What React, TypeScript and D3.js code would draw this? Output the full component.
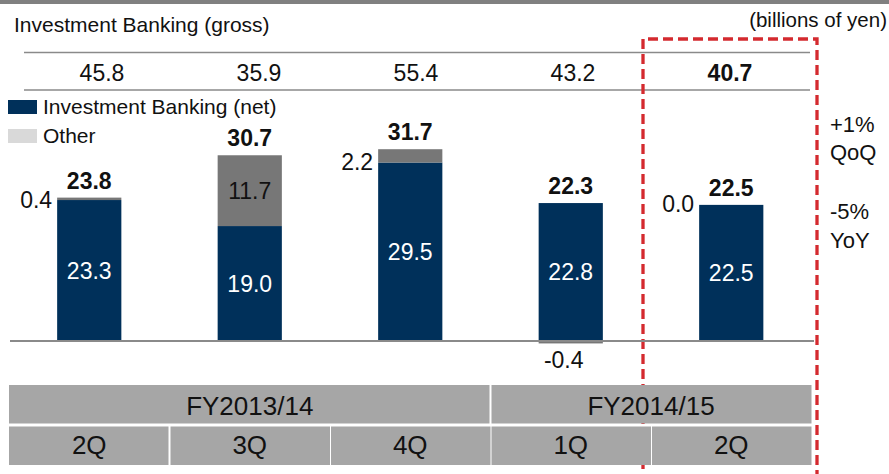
import React from "react";
import * as d3 from "d3";

const quarters = ["2Q", "3Q", "4Q", "1Q", "2Q"];
const fiscalYears = ["FY2013/14", "FY2014/15"];
const fiscalYearQuarterCounts = [3, 2];
const grossValues = [45.8, 35.9, 55.4, 43.2, 40.7];
const ibNetValues = [23.3, 19.0, 29.5, 22.8, 22.5];
const otherValues = [0.4, 11.7, 2.2, -0.4, 0.0];
const totalValues = [23.8, 30.7, 31.7, 22.3, 22.5];
const legendLabels = ["Investment Banking (net)", "Other"];
const changeLabels = ["+1%", "QoQ", "-5%", "YoY"];
const titleText = "Investment Banking (gross)";
const unitText = "(billions of yen)";

const W = 889;
const H = 474;
const FONT = "'Liberation Sans', Arial, Helvetica, sans-serif";
const NAVY = "#00305a";
const OTHER = "#777777";
const OTHER_LEGEND = "#d9d9d9";
const TABLE = "#a6a6a6";
const RED = "#d42a2f";
const LINE = "#8a8a8a";

type TProps = {
  x: number;
  y: number;
  size?: number;
  anchor?: "start" | "middle" | "end";
  bold?: boolean;
  fill?: string;
  children: React.ReactNode;
};

function T({ x, y, size = 23, anchor = "start", bold = false, fill = "#111", children }: TProps) {
  return (
    <text
      x={x}
      y={y}
      fontFamily={FONT}
      fontSize={size}
      fontWeight={bold ? "bold" : "normal"}
      textAnchor={anchor}
      fill={fill}
    >
      {children}
    </text>
  );
}

const fmt = (v: number) => v.toFixed(1);

export default function App() {
  const idx = quarters.map((_, i) => i);
  const x = d3.scaleBand<number>().domain(idx).range([9, 811.5]).paddingInner(0).paddingOuter(0);
  const xGross = d3.scaleBand<number>().domain(idx).range([23.5, 808.5]);
  const y = d3.scaleLinear().domain([0, 10]).range([341, 280.5]);
  const barW = x.bandwidth() * 0.4;
  const highlight = quarters.length - 1;

  let start = 0;
  const fySpans = fiscalYears.map((fy, i) => {
    const s = start;
    const e = start + fiscalYearQuarterCounts[i] - 1;
    start += fiscalYearQuarterCounts[i];
    return { fy, x0: x(s)!, x1: x(e)! + x.bandwidth() };
  });

  const dashPath = d3.path();
  dashPath.moveTo(643, H + 10);
  dashPath.lineTo(643, 39);
  dashPath.lineTo(817, 39);
  dashPath.lineTo(817, H + 10);

  return (
    <svg
      width={W}
      height={H}
      viewBox={`0 0 ${W} ${H}`}
      style={{ position: "absolute", left: 0, top: 0, background: "#fff" }}
    >
      <rect x={0} y={0} width={W} height={H} fill="#fff" />
      <rect x={0} y={0} width={W} height={4} fill="#808080" />

      <T x={14} y={31.5} size={21}>{titleText}</T>
      <T x={887} y={27} size={20.5} anchor="end">{unitText}</T>

      {/* gross row */}
      <line x1={24} x2={810} y1={52.5} y2={52.5} stroke={LINE} strokeWidth={1.5} />
      <line x1={24} x2={810} y1={90} y2={90} stroke={LINE} strokeWidth={1.5} />
      {grossValues.map((v, i) => (
        <T key={"g" + i} x={xGross(i)! + xGross.bandwidth() / 2} y={80.5} anchor="middle" bold={i === highlight}>
          {fmt(v)}
        </T>
      ))}

      {/* legend */}
      <rect x={8} y={100} width={29} height={14} fill={NAVY} />
      <T x={43} y={114} size={21}>{legendLabels[0]}</T>
      <rect x={8} y={129} width={29} height={14} fill={OTHER_LEGEND} />
      <T x={43} y={143} size={21}>{legendLabels[1]}</T>

      {/* dashed highlight frame */}
      <path d={dashPath.toString()} fill="none" stroke={RED} strokeWidth={3.3} strokeDasharray="10,5" />

      {/* bars */}
      {idx.map((i) => {
        const cx = x(i)! + x.bandwidth() / 2;
        const left = cx - barW / 2;
        const ib = ibNetValues[i];
        const ot = otherValues[i];
        const ibTop = y(ib);
        const otY0 = ot >= 0 ? y(ib + ot) : y(0);
        const otY1 = ot >= 0 ? y(ib) : y(ot);
        const stackTop = Math.min(y(ib), y(ib + Math.max(ot, 0)));
        return (
          <g key={"b" + i}>
            <rect x={left} y={ibTop} width={barW} height={y(0) - ibTop} fill={NAVY} />
            {ot !== 0 && (
              <rect x={left} y={otY0} width={barW} height={otY1 - otY0} fill={OTHER} />
            )}
            <T x={cx} y={(ibTop + y(0)) / 2 + 8} anchor="middle" fill="#fff">
              {fmt(ib)}
            </T>
            {ot >= 5 ? (
              <T x={cx} y={(otY0 + otY1) / 2 + 8} anchor="middle">{fmt(ot)}</T>
            ) : ot < 0 ? (
              <T x={cx - 7} y={y(0) + 27} anchor="middle">{fmt(ot)}</T>
            ) : (
              <T x={left - 5} y={y(ib) + 7.5} anchor="end">{fmt(ot)}</T>
            )}
            <T x={cx} y={stackTop - 9} anchor="middle" bold>
              {fmt(totalValues[i])}
            </T>
          </g>
        );
      })}

      {/* zero axis */}
      <line x1={10} x2={814} y1={y(0)} y2={y(0)} stroke={LINE} strokeWidth={2} />

      {/* change annotations */}
      <T x={830} y={131.5} size={22}>{changeLabels[0]}</T>
      <T x={830} y={160} size={22}>{changeLabels[1]}</T>
      <T x={830} y={219} size={22}>{changeLabels[2]}</T>
      <T x={830} y={248} size={22}>{changeLabels[3]}</T>

      {/* table */}
      {fySpans.map((s, i) => (
        <g key={"fy" + i}>
          <rect x={s.x0 + (i === 0 ? 0 : 1)} y={385} width={s.x1 - s.x0 - 1} height={38.5} fill={TABLE} />
          <T x={(s.x0 + s.x1) / 2} y={415} size={26} anchor="middle">{s.fy}</T>
        </g>
      ))}
      {quarters.map((q, i) => (
        <g key={"q" + i}>
          <rect x={x(i)! + (i === 0 ? 0 : 1)} y={426.5} width={x.bandwidth() - 1} height={38.5} fill={TABLE} />
          <T x={x(i)! + x.bandwidth() / 2} y={454} size={26} anchor="middle">{q}</T>
        </g>
      ))}
    </svg>
  );
}
